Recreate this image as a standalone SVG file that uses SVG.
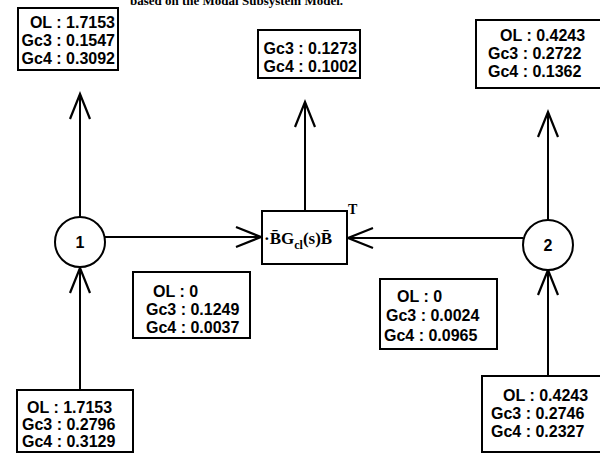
<svg xmlns="http://www.w3.org/2000/svg" width="600" height="456" viewBox="0 0 600 456">
<style>
.box{fill:#fff;stroke:#000;stroke-width:2}
.t{font-family:"Liberation Sans",Arial,sans-serif;font-weight:bold;font-size:16px;fill:#000}
.line{stroke:#000;stroke-width:2;fill:none}
.circ{fill:#fff;stroke:#000;stroke-width:2}
.cap{font-family:"Liberation Serif","Times New Roman",serif;font-weight:bold;font-size:13px;fill:#000}
.ser{font-family:"Liberation Serif","Times New Roman",serif;font-weight:bold;fill:#000}
</style>
<defs>
<marker id="ah" viewBox="-26 -12 28 24" refX="0" refY="0" markerWidth="28" markerHeight="24" markerUnits="userSpaceOnUse" orient="auto" overflow="visible">
<path d="M-25,-10 L0,0 L-25,10" fill="none" stroke="#000" stroke-width="2.2" stroke-linejoin="miter"/>
</marker>
</defs>
<rect width="600" height="456" fill="#fff"/>
<text class="cap" x="130" y="5">based on the Modal Subsystem Model.</text>

<g id="connectors">
<line class="line" x1="80" y1="217" x2="80" y2="94" marker-end="url(#ah)"/>
<line class="line" x1="80" y1="390" x2="80" y2="268" marker-end="url(#ah)"/>
<line class="line" x1="105" y1="237" x2="261" y2="237" marker-end="url(#ah)"/>
<line class="line" x1="523" y1="238" x2="348" y2="238" marker-end="url(#ah)"/>
<line class="line" x1="305" y1="211" x2="305" y2="102" marker-end="url(#ah)"/>
<line class="line" x1="548" y1="220" x2="548" y2="112" marker-end="url(#ah)"/>
<line class="line" x1="548" y1="376" x2="548" y2="270" marker-end="url(#ah)"/>
</g>

<g id="node-tl">
<rect class="box" x="18" y="8" width="100" height="62"/>
<text class="t" x="115" y="28" text-anchor="end">OL : 1.7153</text>
<text class="t" x="115" y="46" text-anchor="end">Gc3 : 0.1547</text>
<text class="t" x="115" y="64" text-anchor="end">Gc4 : 0.3092</text>
</g>

<g id="node-tm">
<rect class="box" x="258" y="30" width="102" height="48"/>
<text class="t" x="357" y="54" text-anchor="end">Gc3 : 0.1273</text>
<text class="t" x="357" y="72" text-anchor="end">Gc4 : 0.1002</text>
</g>

<g id="node-tr">
<rect class="box" x="476" y="20" width="130" height="68"/>
<text class="t" x="500" y="41">OL : 0.4243</text>
<text class="t" x="488" y="59">Gc3 : 0.2722</text>
<text class="t" x="488" y="77">Gc4 : 0.1362</text>
</g>

<g id="node-1">
<circle class="circ" cx="80" cy="242" r="25"/>
<text class="t" x="80" y="248" text-anchor="middle">1</text>
</g>

<g id="node-2">
<circle class="circ" cx="548" cy="245" r="25"/>
<text class="t" x="548" y="251" text-anchor="middle">2</text>
</g>

<g id="node-center">
<rect class="box" x="262" y="211" width="85" height="53"/>
<text class="ser" x="264" y="244" font-size="17">·B̄G<tspan font-size="12" dy="5">cl</tspan><tspan dy="-5">(s)B̄</tspan></text>
<text class="ser" x="348" y="214" font-size="14">T</text>
</g>

<g id="node-ml">
<rect class="box" x="133" y="272" width="117" height="66"/>
<text class="t" x="153" y="297">OL : 0</text>
<text class="t" x="146" y="315">Gc3 : 0.1249</text>
<text class="t" x="146" y="333">Gc4 : 0.0037</text>
</g>

<g id="node-mr">
<rect class="box" x="380" y="279" width="117" height="70"/>
<text class="t" x="397" y="302">OL : 0</text>
<text class="t" x="386" y="321">Gc3 : 0.0024</text>
<text class="t" x="384" y="341" font-size="17">Gc4 : 0.0965</text>
</g>

<g id="node-bl">
<rect class="box" x="17" y="390" width="116" height="62"/>
<text class="t" x="27" y="413">OL : 1.7153</text>
<text class="t" x="22" y="430">Gc3 : 0.2796</text>
<text class="t" x="22" y="447">Gc4 : 0.3129</text>
</g>

<g id="node-br">
<rect class="box" x="482" y="376" width="120" height="76"/>
<text class="t" x="503" y="401">OL : 0.4243</text>
<text class="t" x="491" y="419">Gc3 : 0.2746</text>
<text class="t" x="491" y="437">Gc4 : 0.2327</text>
</g>
</svg>
